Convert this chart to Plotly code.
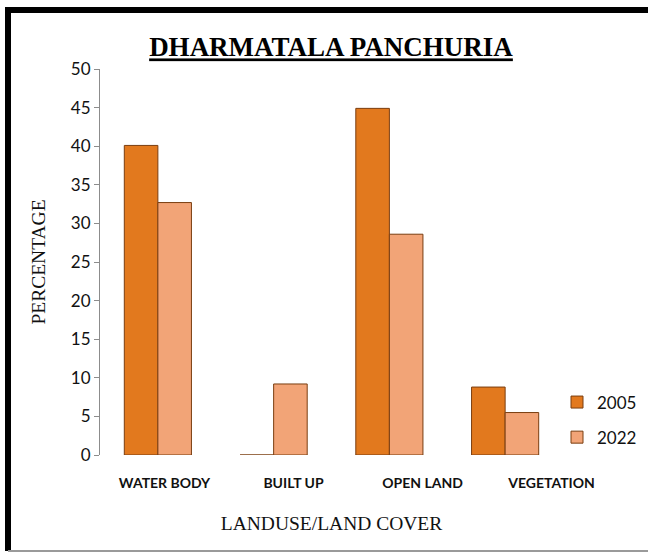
import plotly.graph_objects as go

categories = ["WATER BODY", "BUILT UP", "OPEN LAND", "VEGETATION"]
series_names = ["2005", "2022"]
values_2005 = [40.1, 0, 44.9, 8.8]
values_2022 = [32.7, 9.2, 28.6, 5.5]
y_ticks = [0, 5, 10, 15, 20, 25, 30, 35, 40, 45, 50]

colors = ["#E2791E", "#F2A477"]
edge = "#7A3E10"

fig = go.Figure()
for name, vals, col in zip(series_names, [values_2005, values_2022], colors):
    fig.add_trace(go.Bar(
        x=categories, y=vals, name=name, legendgroup=name,
        marker=dict(color=col, line=dict(color=edge, width=1)),
    ))
# carrier for the category-label axis (no visible marks)
fig.add_trace(go.Scatter(
    x=categories, y=[None] * len(categories), xaxis="x2", yaxis="y",
    mode="markers", showlegend=False, hoverinfo="skip",
))

W, H = 648, 552
l, r, t, b = 100, 32, 69, 97
pw = W - l - r

fig.update_layout(
    width=W, height=H,
    margin=dict(l=l, r=r, t=t, b=b, autoexpand=False),
    paper_bgcolor="white", plot_bgcolor="rgba(0,0,0,0)",
    barmode="group", bargap=0.42, bargroupgap=0,
    showlegend=True,
    legend=dict(x=(557 - l) / pw, y=(H - b - 420) / (H - t - b),
                xanchor="left", yanchor="middle",
                font=dict(family="Lato", size=17, color="#111"),
                bgcolor="rgba(0,0,0,0)", traceorder="grouped",
                tracegroupgap=10, itemwidth=30),
    title=dict(text="<u><b>DHARMATALA PANCHURIA</b></u>",
               x=331 / W, xanchor="center", y=1 - 47 / H, yanchor="middle",
               font=dict(family="Liberation Serif", size=27, color="#000")),
    xaxis=dict(
        domain=[0, (563 - l) / pw], anchor="y",
        showline=False, ticks="", showgrid=False, showticklabels=False,
        title=dict(text="LANDUSE/LAND COVER", standoff=61,
                   font=dict(family="Liberation Serif", size=19.5, color="#111")),
    ),
    xaxis2=dict(
        domain=[0, 1], anchor="y", side="bottom",
        type="category", categoryorder="array", categoryarray=categories,
        range=[-0.5, len(categories) - 0.5],
        showline=False, ticks="", showgrid=False, zeroline=False,
        ticklabelstandoff=18,
        tickfont=dict(family="Lato", size=14, color="#111", weight="bold"),
    ),
    yaxis=dict(
        range=[0, 50], tickvals=y_ticks, showgrid=False,
        showline=True, linecolor="#8c8c8c", linewidth=1,
        ticks="outside", ticklen=5, tickcolor="#8c8c8c",
        tickfont=dict(family="Lato", size=17, color="#111"),
        title=dict(text="PERCENTAGE", standoff=20,
                   font=dict(family="Liberation Serif", size=19.5, color="#111")),
        zeroline=False,
    ),
)

def px_x(px):
    return (px - l) / pw

def px_y(py):
    return (H - b - py) / (H - t - b)

# frame lines around the chart
fig.add_shape(type="line", xref="paper", yref="paper",
              x0=px_x(8), x1=px_x(8), y0=px_y(7), y1=px_y(551),
              line=dict(color="black", width=6))
fig.add_shape(type="line", xref="paper", yref="paper",
              x0=px_x(5), x1=px_x(648), y0=px_y(10), y1=px_y(10),
              line=dict(color="black", width=6))
fig.add_shape(type="line", xref="paper", yref="paper",
              x0=px_x(8), x1=px_x(648), y0=px_y(551), y1=px_y(551),
              line=dict(color="#9a9a9a", width=2))

fig.write_html("out.html", config={"displayModeBar": False},
               post_script="document.body.style.margin='0';document.body.style.overflow='hidden';")
